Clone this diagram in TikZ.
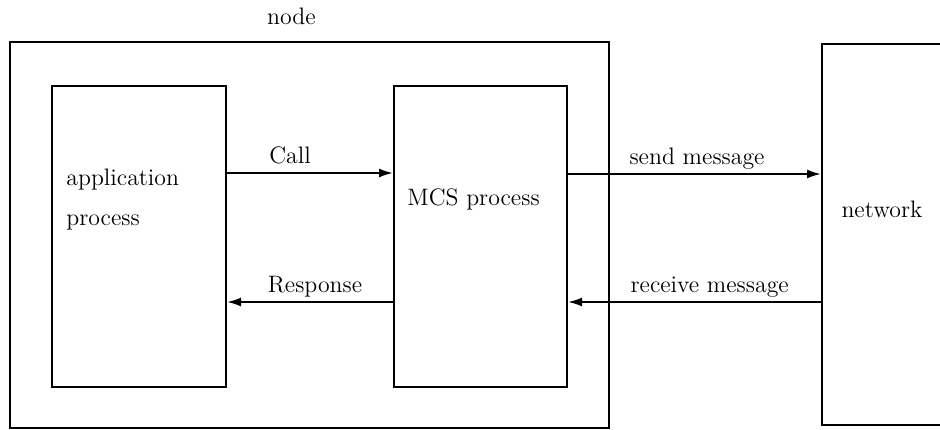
\documentclass[tikz,border=0pt]{standalone}
\usetikzlibrary{arrows.meta}
\tikzset{
  box/.style={draw, line width=1pt, inner sep=0pt},
  txt/.style={inner sep=0pt},
  msg/.style={line width=1pt, -{Latex[length=7pt,width=4.5pt]}},
  lbl/.style={anchor=base, yshift=5pt},
}
\begin{document}
\begin{tikzpicture}[x=0.5pt, y=-0.5pt, font=\fontsize{11.9}{20}\selectfont]
  %%%%% START %%%%%
  \useasboundingbox (0,0) rectangle (940,429);

  % boxes
  \node[box, minimum width=299.5pt, minimum height=193pt] (nodebox) at (309.5,235) {};
  \node[box, minimum width=87pt, minimum height=150.5pt] (app) at (139,236.5) {};
  \node[box, minimum width=86.5pt, minimum height=150.5pt] (mcs) at (480.5,236.5) {};
  \node[box, minimum width=79pt, minimum height=190.5pt] (net) at (901,234.5) {};

  % texts
  \node[txt, anchor=base] (nodetxt) at (291.5,24) {node};
  \node[txt, anchor=base west, align=left] (apptxt) at (66,225) {application\\process};
  \node[txt, anchor=base west] (mcstxt) at (407,205) {MCS process};
  \node[txt, anchor=base] (nettxt) at (882,217) {network};

  % messages
  \draw[msg] (app.east |- 0,173) -- node[lbl, pos=0.38] (call) {Call} (mcs.west |- 0,173);
  \draw[msg] (mcs.west |- 0,302) -- node[lbl, pos=0.47] (resp) {Response} (app.east |- 0,302);
  \draw[msg] (mcs.east |- 0,174) -- node[lbl, pos=0.51] (send) {send message} (net.west |- 0,174);
  \draw[msg] (net.west |- 0,302) -- node[lbl, pos=0.44] (recv) {receive message} (mcs.east |- 0,302);
  %%%%% END %%%%%
\end{tikzpicture}
\end{document}
